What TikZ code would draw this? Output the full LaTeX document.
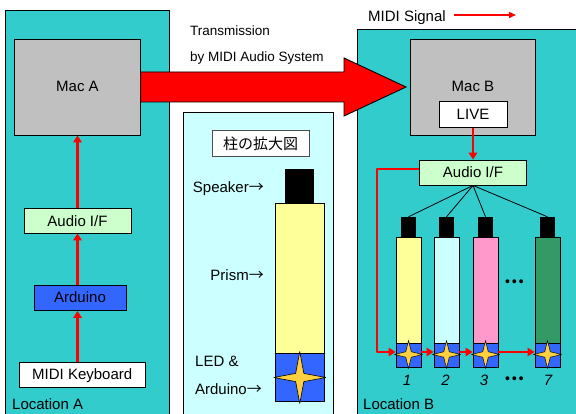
\documentclass[tikz,border=0pt]{standalone}
\usepackage{fontspec}
\setmainfont{Liberation Sans}
\newfontfamily\cjkfont{Noto Sans CJK JP}
\usetikzlibrary{shapes.geometric,arrows.meta,calc}
\definecolor{teal1}{HTML}{33CCCC}
\definecolor{gray1}{HTML}{C0C0C0}
\definecolor{green1}{HTML}{CCFFCC}
\definecolor{blue1}{HTML}{3366FF}
\definecolor{cyan1}{HTML}{CCFFFF}
\definecolor{yellow1}{HTML}{FFFF99}
\definecolor{pink1}{HTML}{FF99CC}
\definecolor{green2}{HTML}{339966}
\definecolor{star1}{HTML}{FFD040}
\newcommand{\arw}{{\cjkfont →}}
\tikzset{
  x=1pt,y=-1pt,
  panel/.style={draw=black,line width=0.9pt,fill=teal1},
  box/.style={draw=black,line width=0.9pt,inner sep=0pt,font=\fontsize{15}{18}\selectfont,align=center},
  label/.style={inner sep=0pt,font=\fontsize{15}{18}\selectfont},
  smalllabel/.style={inner sep=0pt,font=\fontsize{13.5}{16}\selectfont},
  dotlabel/.style={inner sep=0pt,font=\fontsize{18}{20}\selectfont\cjkfont\bfseries},
  sig/.style={draw=red,line width=2.8pt,-{Triangle[length=7pt,width=8.5pt]}},
  fan/.style={draw=black,line width=0.8pt},
  starnode/.style={star,star points=4,star point ratio=4.5,draw=black,fill=star1,line width=0.6pt,inner sep=0pt,miter limit=2},
  spk/.style={fill=black,inner sep=0pt},
  digit/.style={inner sep=0pt,font=\fontsize{15}{18}\selectfont\itshape},
}
\begin{document}
\begin{tikzpicture}
\useasboundingbox (0,0) rectangle (576,414);
\clip (0,0) rectangle (576,414);
% panels
\draw[panel] (5,10) rectangle (169,425);
\draw[panel] (357.5,29) rectangle (590,425);
\draw[draw=black,line width=0.9pt,fill=cyan1] (183.5,112) rectangle (333.5,425);
% macs
\node[box,fill=gray1,minimum width=125.5pt,minimum height=96pt] (maca) at (77.5,87) {};
\node[label] (macat) at (77.5,86) {Mac A};
\node[box,fill=gray1,minimum width=125.5pt,minimum height=96pt] (macb) at (473,87) {};
\node[label] (macbt) at (473,86) {Mac B};
\node[box,fill=white,minimum width=68pt,minimum height=25.5pt] (live) at (473,114.5) {LIVE};
% big arrow
\draw[fill=red,draw=black,line width=0.9pt,line join=miter]
  (maca.east |- 0,72) -- (344,72) -- (344,58) -- (406,87) -- (344,116) -- (344,102) -- (maca.east |- 0,102) -- cycle;
% left column
\node[box,fill=green1,minimum width=106.5pt,minimum height=25pt] (aifa) at (77.75,220.5) {};
\node[label] (aifat) at (77.5,221) {Audio I/F};
\node[box,fill=blue1,minimum width=92pt,minimum height=25.5pt] (ard) at (80,297.75) {};
\node[label] (ardt) at (80,297.5) {Arduino};
\node[box,fill=white,minimum width=125.5pt,minimum height=25pt] (kbd) at (82.25,374.5) {};
\node[label] (kbdt) at (82.25,375.5) {MIDI Keyboard};
\coordinate (la) at (77.5,0);
\draw[sig] (kbd.north -| la) -- (ard.south -| la);
\draw[sig] (ard.north -| la) -- (aifa.south -| la);
\draw[sig] (aifa.north -| la) -- (maca.south -| la);
\node[label,anchor=base west] (loca) at (12,409) {Location A};
% header texts
\node[smalllabel,anchor=base west] (t1) at (190,36) {Transmission};
\node[smalllabel,anchor=base west] (t2) at (190,62) {by MIDI Audio System};
\node[label,anchor=base west] (sigt) at (368,22) {MIDI Signal};
\coordinate (sa) at (454,15);
\coordinate (sb) at (516,15);
\draw[draw=red,line width=1.5pt,-{Triangle[length=7pt,width=6pt]}] (sa) -- (sb);
% centre panel
\node[draw=black!70,line width=0.9pt,fill=white,inner sep=0pt,minimum width=97pt,minimum height=25.5pt,font=\fontsize{15}{18}\selectfont\cjkfont] (title) at (260.5,143.5) {柱の拡大図};
\node[spk,minimum width=29pt,minimum height=34pt] (bigspk) at (299.5,186) {};
\node[box,fill=yellow1,minimum width=48.5pt,minimum height=150pt] (bigprism) at (299.75,278) {};
\node[box,fill=blue1,minimum width=48.5pt,minimum height=48pt] (bigled) at (299.75,377) {};
\node[starnode,minimum size=52pt] (bigstar) at (299.75,377.5) {};
\node[label,anchor=base east] (l1) at (264,193) {Speaker\arw};
\node[label,anchor=base east] (l2) at (264,280) {Prism\arw};
\node[label,anchor=base west] (l3) at (195,366) {LED \&};
\node[label,anchor=base east] (l4) at (262,394) {Arduino\arw};
% right
\node[box,fill=green1,minimum width=106.5pt,minimum height=25pt] (aifb) at (473,172.5) {Audio I/F};
\draw[sig] (live.south) -- (aifb.north);
% columns
\foreach \n/\cx/\col in {a/408.5/yellow1,b/446.5/cyan1,c/485.5/pink1,d/547.5/green2}{
  \node[spk,minimum width=15pt,minimum height=20pt] (s\n) at (\cx,227) {};
  \node[box,fill=\col,minimum width=25pt,minimum height=106pt] (p\n) at (\cx,290) {};
  \node[box,fill=blue1,minimum width=25pt,minimum height=24pt] (b\n) at (\cx,355) {};
  \draw[fan] (aifb.south) -- (s\n.north);
}
\coordinate (ry) at (0,352);
\coordinate (rx) at (377,0);
\foreach \n/\cx in {a/408.5,b/446.5,c/485.5,d/547.5}{
  \node[starnode,star point ratio=3.6,line width=0.5pt,minimum size=28pt] (st\n) at (\cx,354.5) {};
}
\draw[sig,line join=round]
  (aifb.west |- 0,169) -- (rx |- 0,169) -- (rx |- ry) -- (ba.west |- ry);
\draw[sig] (ba.east |- ry) -- (bb.west |- ry);
\draw[sig] (bb.east |- ry) -- (bc.west |- ry);
\draw[sig] (bc.east |- ry) -- (bd.west |- ry);
\node[digit] (d1) at (407,380) {1};
\node[digit] (d2) at (445.5,380) {2};
\node[digit] (d3) at (484,380) {3};
\node[digit] (d7) at (548,380) {7};
\node[dotlabel] (dots1) at (515,379) {…};
\node[dotlabel] (dots2) at (515,282) {…};
\node[label,anchor=base west] (locb) at (363,409) {Location B};
\end{tikzpicture}
\end{document}
